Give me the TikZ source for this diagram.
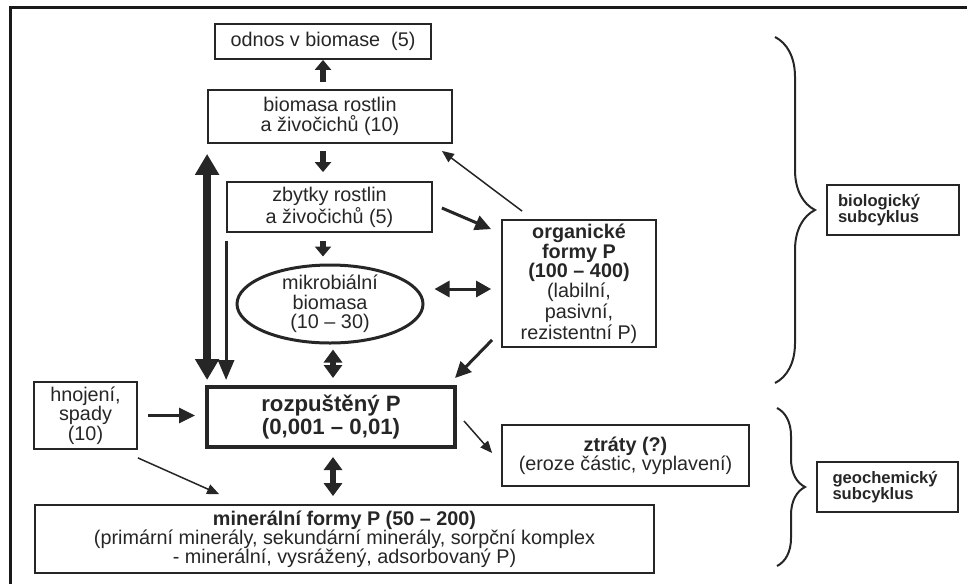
\documentclass[tikz,border=0pt]{standalone}
\usepackage{fontspec}
\setmainfont{Liberation Sans}
\usetikzlibrary{arrows.meta,calc,shapes.geometric,decorations.pathreplacing}

\begin{document}
\begin{tikzpicture}[x=0.5pt,y=-0.5pt,
  box/.style={draw=black!85,line width=0.9pt,text=black!85,align=center,inner sep=0pt,
    font=\fontsize{9.9}{9.7}\selectfont},
  tag/.style={box,align=left,text width=55pt,font=\bfseries\fontsize{8.3}{8}\selectfont},
  fat/.style={draw=black!85,line width=3pt,-{Triangle[length=5pt,width=8pt]}},
  pipe/.style={draw=black!85,line width=4pt,{Triangle[length=10.5pt,width=11.5pt]}-{Triangle[length=10.5pt,width=11.5pt]}},
  dbl/.style={draw=black!85,line width=3pt,{Triangle[length=6.5pt,width=9pt]}-{Triangle[length=6.5pt,width=9pt]}},
  mid/.style={draw=black!85,line width=1.5pt,-{Triangle[length=8pt,width=7.5pt]}},
  thinarr/.style={draw=black!85,line width=0.75pt,-{Triangle[length=6pt,width=5pt]}}]
  \useasboundingbox (0,0) rectangle (967,584);
  \draw[line width=1.5pt,black!90] (10,584) |- (967,7);

  % nodes
  \node[box,minimum width=108pt,minimum height=17.5pt] (odnos) at (323,41.5) {odnos v biomase~ (5)};
  \node[box,minimum width=122pt,minimum height=26.5pt] (bio) at (330,116.5) {biomasa rostlin\\a živočichů (10)};
  \node[box,minimum width=102.5pt,minimum height=25pt] (zbytky) at (329.5,207) {zbytky rostlin\\a živočichů (5)};
  \node[box,ellipse,line width=1.5pt,minimum width=93pt,minimum height=39pt,inner xsep=0pt,inner ysep=-1pt] (mikro) at (330,304) {mikrobiální\\biomasa\\(10 – 30)};
  \node[box,line width=2pt,minimum width=124pt,minimum height=30pt,font=\bfseries\fontsize{11.1}{10.3}\selectfont] (rozp) at (331,417) {rozpuštěný P\\(0,001 – 0,01)};
  \node[box,minimum width=51.5pt,minimum height=33.5pt] (hnoj) at (85.5,415.5) {hnojení,\\spady\\(10)};
  \node[box,minimum width=309.5pt,minimum height=34pt,font=\fontsize{9.9}{9.5}\selectfont] (miner) at (344.5,539) {\textbf{minerální formy P (50 – 200)}\\(primární minerály, sekundární minerály, sorpční komplex\\- minerální, vysrážený, adsorbovaný P)};
  \node[box,minimum width=77pt,minimum height=63.5pt,font=\fontsize{9.9}{9.25}\selectfont] (org) at (579,283.5) {\textbf{organické}\\\textbf{formy P}\\\textbf{(100 – 400)}\\(labilní,\\pasivní,\\rezistentní P)};
  \node[box,minimum width=123.5pt,minimum height=30.5pt] (ztraty) at (625.5,455.5) {\textbf{ztráty (?)}\\(eroze částic, vyplavení)};
  \node[tag,minimum width=65pt,minimum height=25pt,inner xsep=5.5pt] (biol) at (893,210) {biologický\\subcyklus};
  \node[tag,minimum width=70.5pt,minimum height=25pt,inner xsep=5pt] (geoch) at (887.5,487) {geochemický\\subcyklus};

  % braces
  \draw[black!85,line width=1pt,decorate,decoration={brace,amplitude=20pt}] (775,37) -- (775,383);
  \draw[black!85,line width=1pt,decorate,decoration={brace,amplitude=14pt}] (777,408) -- (777,566);

  % flows
  \path
  (bio.north -| odnos) edge[fat,shorten <=3.5pt] (odnos.south)
  (bio.south -| odnos) edge[fat,shorten <=3.5pt,shorten >=4.5pt] (zbytky.north -| odnos)
  (zbytky.south -| odnos) edge[fat,shorten <=4pt,shorten >=3.5pt] (mikro.north -| odnos)
  (bio.south west) edge[pipe,shorten <=5pt,shorten >=2.5pt] (bio.south west |- rozp.north)
  (zbytky.south west) edge[mid,-{Triangle[length=10pt,width=8pt]},shorten <=4pt,shorten >=2.5pt] (zbytky.south west |- rozp.north)
  ($(mikro.south)+(3,0)$) edge[dbl,shorten <=2.5pt,shorten >=3.5pt] ($(rozp.north)+(2,0)$)
  ($(rozp.south)+(2,0)$) edge[dbl,shorten <=4pt,shorten >=4pt] ($(miner.north)+(-11.5,0)$)
  (hnoj.east) edge[mid,shorten <=5pt,shorten >=5pt] (hnoj.east -| rozp.west)
  ($(zbytky.east)+(9,1)$) edge[mid] ($(org.north west)+(-10,10)$)
  ($(org.south west)+(-9,-8)$) edge[mid] ($(rozp.north east)+(-2,-7)$)
  ($(mikro.east)+(10,-15)$) edge[mid,{Triangle[length=7.5pt,width=8pt]}-{Triangle[length=7.5pt,width=8pt]}] ($(org.west)+(-10,5.5)$)
  ($(hnoj.south east)+(0,8)$) edge[thinarr] ($(miner.north west)+(185,-10)$)
  ($(rozp.east)+(7,4)$) edge[thinarr] ($(ztraty.west)+(-9,-2.5)$)
  ($(org.north west)+(21,-8)$) edge[thinarr] ($(bio.south east)+(-11,7)$);
\end{tikzpicture}
\end{document}
